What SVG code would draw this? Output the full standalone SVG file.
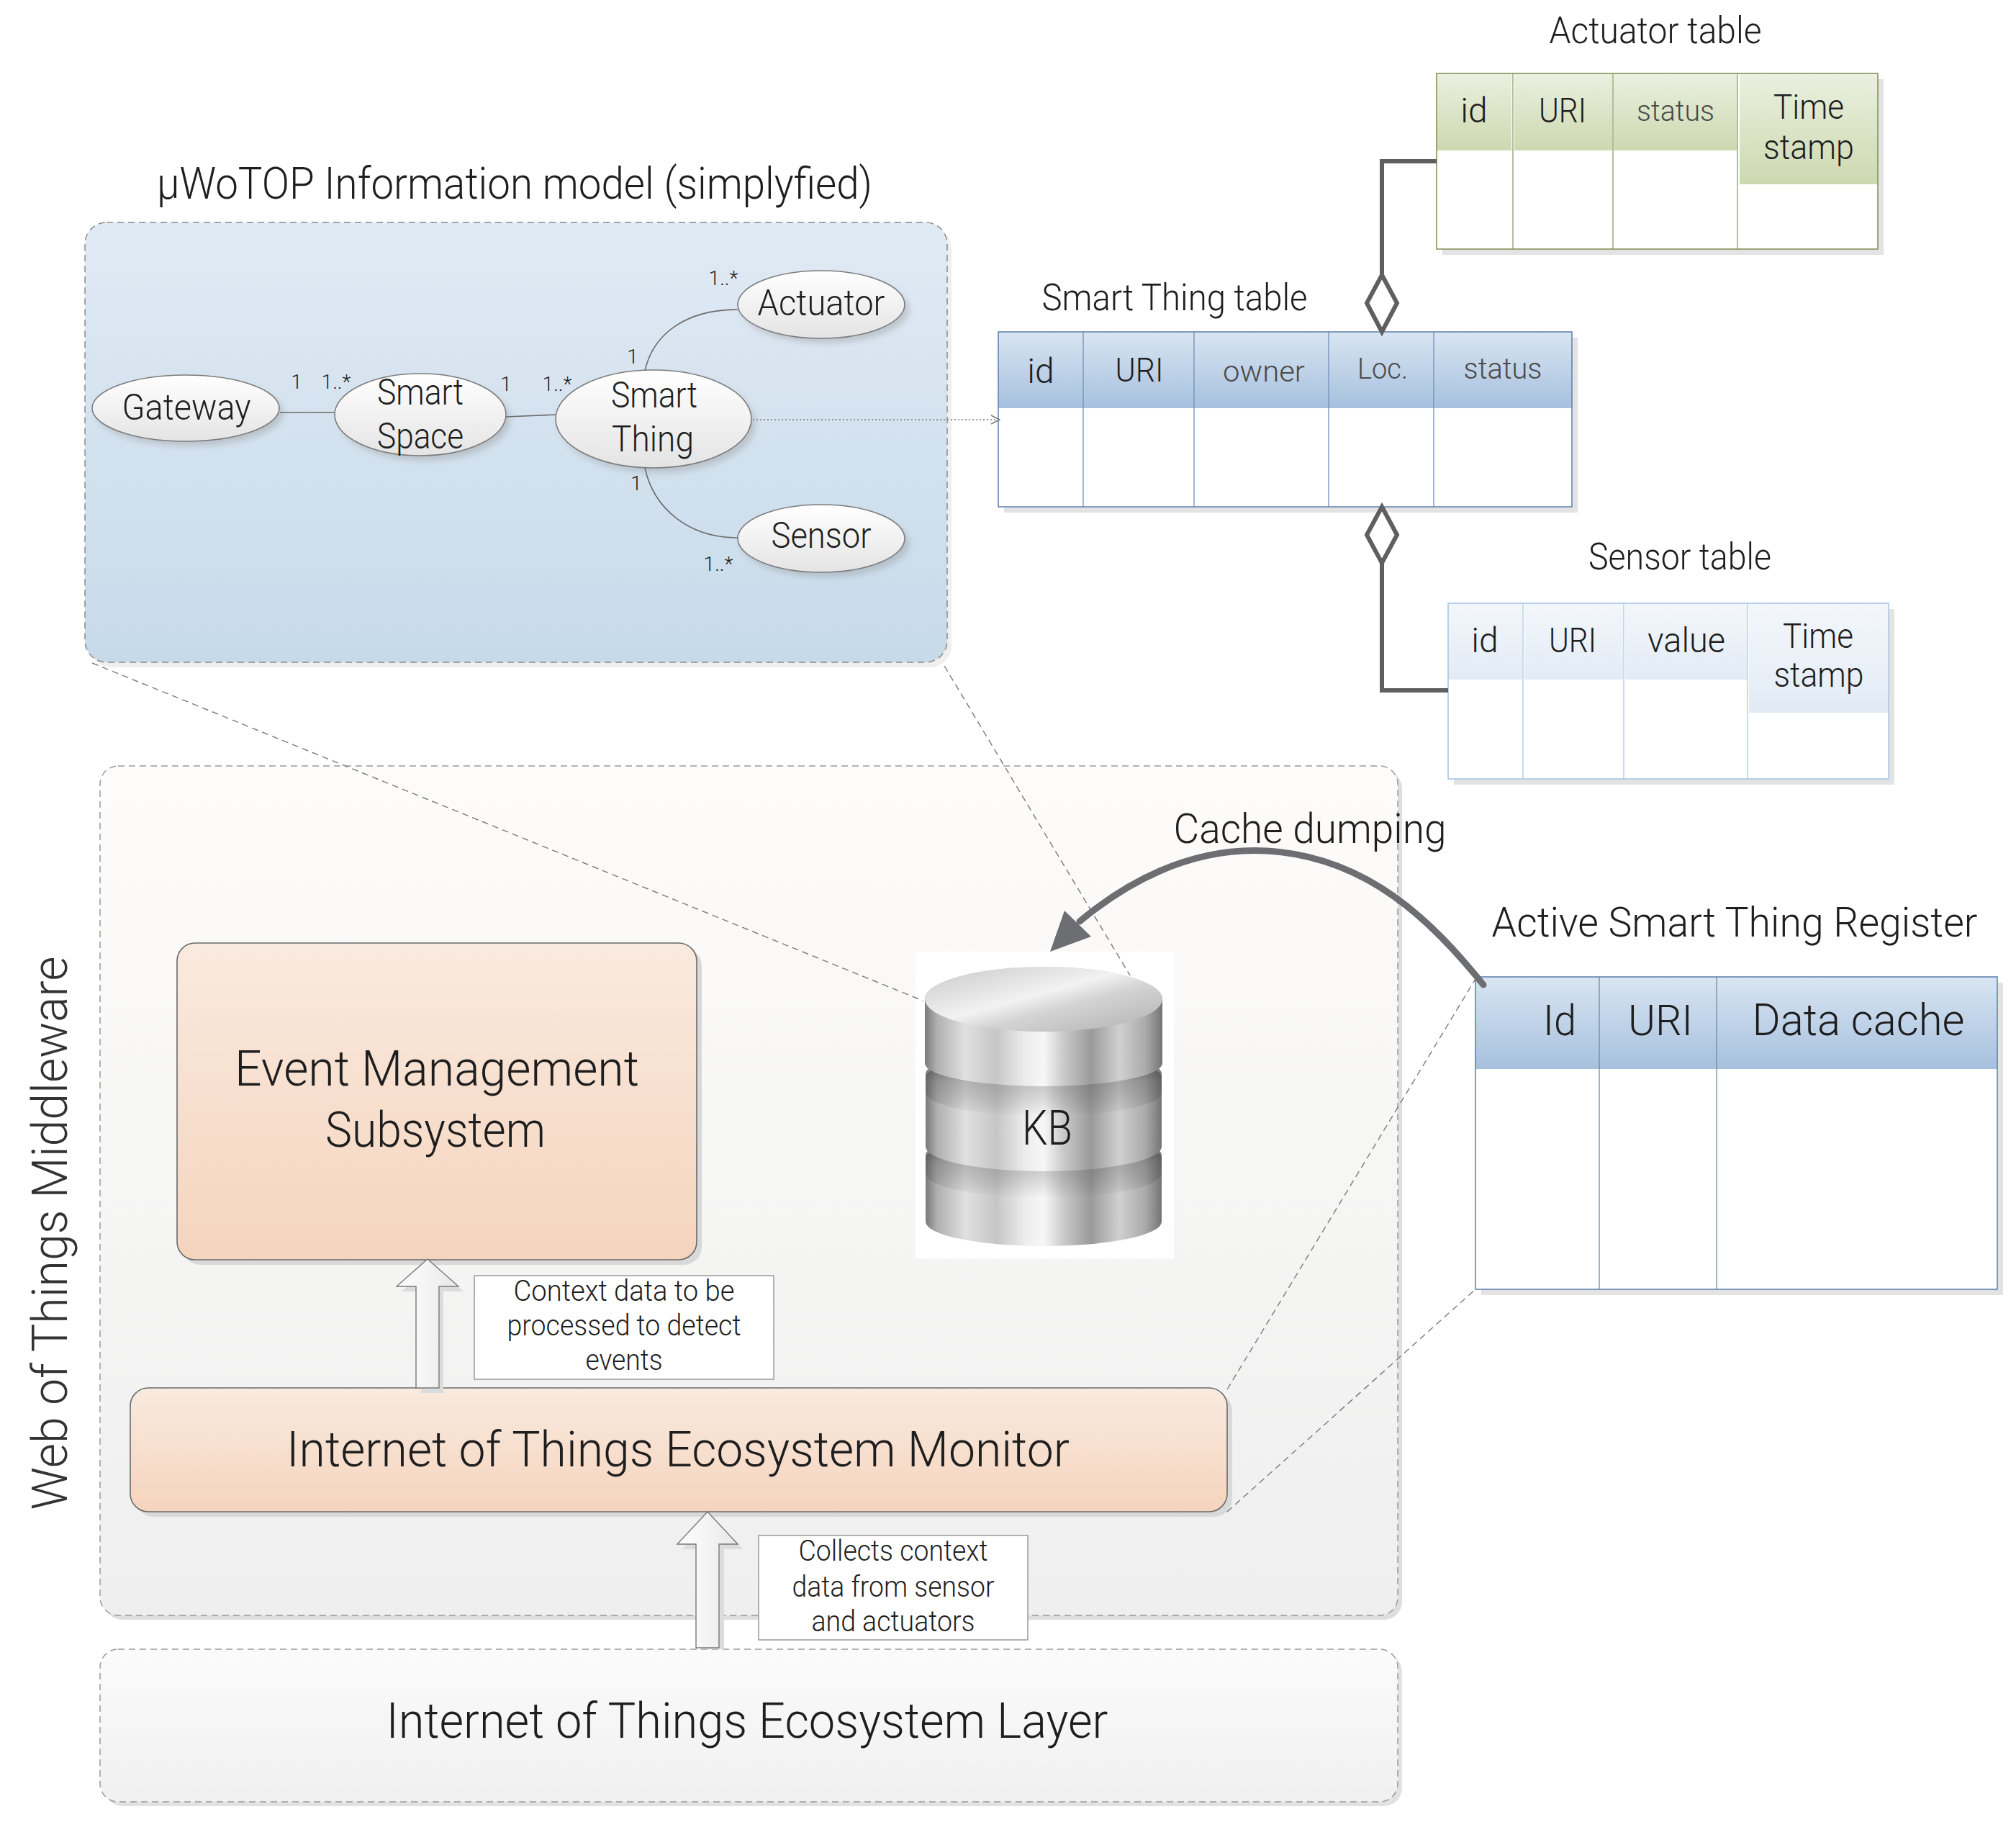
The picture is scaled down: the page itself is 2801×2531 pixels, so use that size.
<svg xmlns="http://www.w3.org/2000/svg" width="2801" height="2531" viewBox="0 0 2801 2531">
<defs>
<style>
text{font-family:"Roboto","Liberation Sans",Arial,sans-serif;font-weight:300;fill:#1e1e1e}
.c{text-anchor:middle}
.g{fill:#4a4a4a}
.mult{font-size:28px;text-anchor:middle}
.thin{stroke:#6b6b6b;stroke-width:1.6;fill:none}
.dash{stroke:#7a7a7a;stroke-width:1.4;fill:none;stroke-dasharray:9 6}
.thick{stroke:#5f5f5f;stroke-width:6;fill:none}
.ell{fill:url(#gEll);stroke:#7c7c7c;stroke-width:1.6}
.shd{fill:#8a8a8a;opacity:0.35;filter:url(#blur)}
.tshd{fill:#e3e3e3}
.peach{fill:url(#gPeach);stroke:#6a6a6a;stroke-width:1.6}
.note{fill:#ffffff;stroke:#a0a0a0;stroke-width:1.6}
.blk{fill:url(#gArrow);stroke:#7a7a7a;stroke-width:1.4}
.side{fill:url(#gSide)}
.groove{fill:url(#gGroove)}
</style>
<filter id="blur" x="-20%" y="-20%" width="140%" height="140%"><feGaussianBlur stdDeviation="4"/></filter>
<linearGradient id="gInfo" x1="0" y1="0" x2="0" y2="1"><stop offset="0" stop-color="#e0eaf4"/><stop offset="1" stop-color="#c7daea"/></linearGradient>
<linearGradient id="gEll" x1="0" y1="0" x2="0" y2="1"><stop offset="0" stop-color="#ffffff"/><stop offset="1" stop-color="#e4e4e4"/></linearGradient>
<linearGradient id="gBlue" x1="0" y1="0" x2="0" y2="1"><stop offset="0" stop-color="#d9e5f2"/><stop offset="1" stop-color="#a6c0de"/></linearGradient>
<linearGradient id="gGreen" x1="0" y1="0" x2="0" y2="1"><stop offset="0" stop-color="#eaf0df"/><stop offset="1" stop-color="#cdd9b0"/></linearGradient>
<linearGradient id="gLight" x1="0" y1="0" x2="0" y2="1"><stop offset="0" stop-color="#f3f7fb"/><stop offset="1" stop-color="#e2ebf5"/></linearGradient>
<linearGradient id="gMid" x1="0" y1="0" x2="0" y2="1"><stop offset="0" stop-color="#fdfcfb"/><stop offset="1" stop-color="#efefef"/></linearGradient>
<linearGradient id="gLayer" x1="0" y1="0" x2="0" y2="1"><stop offset="0" stop-color="#fbfbfb"/><stop offset="1" stop-color="#f0f0f0"/></linearGradient>
<linearGradient id="gPeach" x1="0" y1="0" x2="0" y2="1"><stop offset="0" stop-color="#f9eadf"/><stop offset="1" stop-color="#f5d4bd"/></linearGradient>
<linearGradient id="gArrow" x1="0" y1="0" x2="1" y2="0"><stop offset="0" stop-color="#ffffff"/><stop offset="1" stop-color="#e8e8e8"/></linearGradient>
<linearGradient id="gSide" x1="0" y1="0" x2="1" y2="0">
<stop offset="0" stop-color="#7a7a7a"/><stop offset="0.05" stop-color="#b0b0b0"/><stop offset="0.17" stop-color="#e0e0e0"/><stop offset="0.3" stop-color="#c6c6c6"/><stop offset="0.42" stop-color="#ececec"/><stop offset="0.5" stop-color="#f7f7f7"/><stop offset="0.58" stop-color="#cccccc"/><stop offset="0.7" stop-color="#9a9a9a"/><stop offset="0.82" stop-color="#d0d0d0"/><stop offset="0.93" stop-color="#aaaaaa"/><stop offset="1" stop-color="#747474"/>
</linearGradient>
<linearGradient id="gTop" x1="0" y1="0" x2="1" y2="1"><stop offset="0" stop-color="#c8c8c8"/><stop offset="0.45" stop-color="#f2f2f2"/><stop offset="0.6" stop-color="#d4d4d4"/><stop offset="1" stop-color="#b0b0b0"/></linearGradient>
<linearGradient id="gGroove" x1="0" y1="0" x2="0" y2="1"><stop offset="0" stop-color="#222222" stop-opacity="0.7"/><stop offset="0.45" stop-color="#333333" stop-opacity="0.25"/><stop offset="1" stop-color="#000000" stop-opacity="0"/></linearGradient>
<marker id="mOpen" markerWidth="16" markerHeight="16" refX="14" refY="8" orient="auto" markerUnits="userSpaceOnUse"><path d="M2,2 L14,8 L2,14" fill="none" stroke="#7a7a7a" stroke-width="1.4"/></marker>
</defs>

<rect x="0" y="0" width="2801" height="2531" fill="#ffffff"/>

<!-- Information model container -->
<g id="info-model">
<text class="c" x="715" y="276" font-size="62" textLength="994" lengthAdjust="spacingAndGlyphs">μWoTOP Information model (simplyfied)</text>
<rect x="124" y="316" width="1198" height="611" rx="30" fill="#e4e4e4" opacity="0.6"/>
<rect x="118" y="309" width="1198" height="611" rx="30" fill="url(#gInfo)" stroke="#8a8a8a" stroke-width="1.5" stroke-dasharray="9 6"/>
</g>

<!-- Lower containers -->
<g id="middleware">
<rect x="145" y="1070" width="1803" height="1180" rx="25" fill="#dedede"/>
<rect x="139" y="1064" width="1803" height="1180" rx="25" fill="url(#gMid)" stroke="#9a9a9a" stroke-width="1.5" stroke-dasharray="9 6"/>
<text class="c" transform="translate(93,1713) rotate(-90)" font-size="68" textLength="769" lengthAdjust="spacingAndGlyphs" style="fill:#333333">Web of Things Middleware</text>
</g>

<g id="ecosystem-layer">
<rect x="145" y="2297" width="1803" height="212" rx="25" fill="#e2e2e2"/>
<rect x="139" y="2291" width="1803" height="212" rx="25" fill="url(#gLayer)" stroke="#9a9a9a" stroke-width="1.5" stroke-dasharray="9 6"/>
<text class="c" x="1038" y="2414" font-size="68" textLength="1003" lengthAdjust="spacingAndGlyphs">Internet of Things Ecosystem Layer</text>
</g>

<g id="event-management">
<rect x="253" y="1317" width="722" height="440" rx="25" fill="#d9d9d9"/>
<rect x="246" y="1310" width="722" height="440" rx="25" class="peach"/>
<text class="c" x="607" y="1508" font-size="68" textLength="562" lengthAdjust="spacingAndGlyphs">Event Management</text>
<text class="c" x="605" y="1593" font-size="68" textLength="306" lengthAdjust="spacingAndGlyphs">Subsystem</text>
</g>

<g id="ecosystem-monitor">
<rect x="188" y="1935" width="1524" height="172" rx="25" fill="#d9d9d9"/>
<rect x="181" y="1928" width="1524" height="172" rx="25" class="peach"/>
<text class="c" x="942" y="2037" font-size="68" textLength="1088" lengthAdjust="spacingAndGlyphs">Internet of Things Ecosystem Monitor</text>
</g>

<g id="note-context">
<rect x="659" y="1772" width="416" height="144" class="note"/>
<text class="c" x="867" y="1807" font-size="40" textLength="307" lengthAdjust="spacingAndGlyphs">Context data to be</text>
<text class="c" x="867" y="1855" font-size="40" textLength="325" lengthAdjust="spacingAndGlyphs">processed to detect</text>
<text class="c" x="867" y="1903" font-size="40" textLength="107" lengthAdjust="spacingAndGlyphs">events</text>
</g>

<g id="note-collects">
<rect x="1054" y="2133" width="374" height="145" class="note"/>
<text class="c" x="1241" y="2168" font-size="40" textLength="263" lengthAdjust="spacingAndGlyphs">Collects context</text>
<text class="c" x="1241" y="2218" font-size="40" textLength="281" lengthAdjust="spacingAndGlyphs">data from sensor</text>
<text class="c" x="1241" y="2266" font-size="40" textLength="227" lengthAdjust="spacingAndGlyphs">and actuators</text>
</g>

<!-- KB -->
<g id="kb">
<rect x="1272" y="1322" width="359" height="426" fill="#ffffff"/>
<path class="side" d="M1286,1605 A164,34 0 0 1 1614,1605 V1697 A164,34 0 0 1 1286,1697 Z"/>
<path class="groove" d="M1286,1610 A164,34 0 0 1 1614,1610 V1630 A164,34 0 0 1 1286,1630 Z"/>
<path class="side" d="M1286,1492 A164,34 0 0 1 1614,1492 V1593 A164,34 0 0 1 1286,1593 Z"/>
<path class="groove" d="M1286,1497 A164,34 0 0 1 1614,1497 V1517 A164,34 0 0 1 1286,1517 Z"/>
<path class="side" d="M1285,1388 A165,45 0 0 1 1615,1388 V1477 A165,32 0 0 1 1285,1477 Z"/>
<ellipse cx="1450" cy="1388" rx="165" ry="45" fill="url(#gTop)"/>
<text class="c" x="1455" y="1590" font-size="66" textLength="70" lengthAdjust="spacingAndGlyphs">KB</text>
</g>

<!-- Ellipse nodes -->
<g id="gateway">
<ellipse cx="264" cy="574" rx="130" ry="46" class="shd"/>
<ellipse cx="258" cy="567" rx="130" ry="46" class="ell"/>
<text class="c" x="259" y="583" font-size="50" textLength="179" lengthAdjust="spacingAndGlyphs">Gateway</text>
</g>
<g id="smart-space">
<ellipse cx="590" cy="583" rx="119" ry="57" class="shd"/>
<ellipse cx="584" cy="576" rx="119" ry="57" class="ell"/>
<text class="c" x="584" y="562" font-size="50" textLength="120" lengthAdjust="spacingAndGlyphs">Smart</text>
<text class="c" x="584" y="623" font-size="50" textLength="120" lengthAdjust="spacingAndGlyphs">Space</text>
</g>
<g id="smart-thing">
<ellipse cx="914" cy="589" rx="136" ry="68" class="shd"/>
<ellipse cx="908" cy="582" rx="136" ry="68" class="ell"/>
<text class="c" x="909" y="566" font-size="50" textLength="120" lengthAdjust="spacingAndGlyphs">Smart</text>
<text class="c" x="907" y="627" font-size="50" textLength="114" lengthAdjust="spacingAndGlyphs">Thing</text>
</g>
<g id="actuator">
<ellipse cx="1147" cy="430" rx="116" ry="47" class="shd"/>
<ellipse cx="1141" cy="423" rx="116" ry="47" class="ell"/>
<text class="c" x="1141" y="438" font-size="50" textLength="177" lengthAdjust="spacingAndGlyphs">Actuator</text>
</g>
<g id="sensor">
<ellipse cx="1147" cy="755" rx="116" ry="47" class="shd"/>
<ellipse cx="1141" cy="748" rx="116" ry="47" class="ell"/>
<text class="c" x="1141" y="761" font-size="50" textLength="139" lengthAdjust="spacingAndGlyphs">Sensor</text>
</g>

<!-- Smart Thing table -->
<g id="smart-thing-table">
<text class="c" x="1632" y="431" font-size="52" textLength="369" lengthAdjust="spacingAndGlyphs">Smart Thing table</text>
<rect x="1395" y="469" width="797" height="243" class="tshd"/>
<rect x="1387" y="461" width="797" height="243" fill="#ffffff"/>
<rect x="1387" y="461" width="797" height="106" fill="url(#gBlue)"/>
<g stroke="#6f90ba" stroke-width="1.3">
<line x1="1505" y1="461" x2="1505" y2="704"/><line x1="1659" y1="461" x2="1659" y2="704"/><line x1="1846" y1="461" x2="1846" y2="704"/><line x1="1992" y1="461" x2="1992" y2="704"/>
</g>
<rect x="1387" y="461" width="797" height="243" fill="none" stroke="#5a7eab" stroke-width="1.5"/>
<text class="c" x="1446" y="532" font-size="48">id</text>
<text class="c" x="1583" y="530" font-size="46" textLength="67" lengthAdjust="spacingAndGlyphs">URI</text>
<text class="c g" x="1756" y="530" font-size="40" textLength="114" lengthAdjust="spacingAndGlyphs">owner</text>
<text class="c g" x="1921" y="526" font-size="40" textLength="70" lengthAdjust="spacingAndGlyphs">Loc.</text>
<text class="c g" x="2088" y="526" font-size="40" textLength="109" lengthAdjust="spacingAndGlyphs">status</text>
</g>

<!-- Actuator table -->
<g id="actuator-table">
<text class="c" x="2300" y="60" font-size="52" textLength="295" lengthAdjust="spacingAndGlyphs">Actuator table</text>
<rect x="2004" y="110" width="613" height="244" class="tshd"/>
<rect x="1996" y="102" width="613" height="244" fill="#ffffff"/>
<rect x="1996" y="102" width="104" height="107" fill="url(#gGreen)"/>
<rect x="2104" y="102" width="136" height="107" fill="url(#gGreen)"/>
<rect x="2242" y="102" width="171" height="107" fill="url(#gGreen)"/>
<rect x="2417" y="102" width="192" height="154" fill="url(#gGreen)"/>
<g stroke="#8d9a6c" stroke-width="1.3">
<line x1="2102" y1="102" x2="2102" y2="346"/><line x1="2241" y1="102" x2="2241" y2="346"/><line x1="2414" y1="102" x2="2414" y2="346"/>
</g>
<rect x="1996" y="102" width="613" height="244" fill="none" stroke="#7f8d55" stroke-width="1.5"/>
<text class="c" x="2048" y="170" font-size="48">id</text>
<text class="c" x="2171" y="170" font-size="48" textLength="66" lengthAdjust="spacingAndGlyphs">URI</text>
<text class="c g" x="2328" y="168" font-size="40" textLength="108" lengthAdjust="spacingAndGlyphs">status</text>
<text class="c" x="2513" y="165" font-size="48" textLength="98" lengthAdjust="spacingAndGlyphs">Time</text>
<text class="c" x="2513" y="221" font-size="48" textLength="126" lengthAdjust="spacingAndGlyphs">stamp</text>
</g>

<!-- Sensor table -->
<g id="sensor-table">
<text class="c" x="2334" y="791" font-size="52" textLength="254" lengthAdjust="spacingAndGlyphs">Sensor table</text>
<rect x="2020" y="846" width="612" height="244" class="tshd"/>
<rect x="2012" y="838" width="612" height="244" fill="#ffffff"/>
<rect x="2012" y="838" width="103" height="106" fill="url(#gLight)"/>
<rect x="2118" y="838" width="137" height="106" fill="url(#gLight)"/>
<rect x="2258" y="838" width="169" height="106" fill="url(#gLight)"/>
<rect x="2430" y="838" width="194" height="152" fill="url(#gLight)"/>
<g stroke="#a9c8e6" stroke-width="1.3">
<line x1="2116" y1="838" x2="2116" y2="1082"/><line x1="2256" y1="838" x2="2256" y2="1082"/><line x1="2428" y1="838" x2="2428" y2="1082"/>
</g>
<rect x="2012" y="838" width="612" height="244" fill="none" stroke="#a3c4e5" stroke-width="1.5"/>
<text class="c" x="2063" y="906" font-size="48">id</text>
<text class="c" x="2185" y="906" font-size="48" textLength="66" lengthAdjust="spacingAndGlyphs">URI</text>
<text class="c" x="2343" y="906" font-size="48" textLength="108" lengthAdjust="spacingAndGlyphs">value</text>
<text class="c" x="2526" y="900" font-size="48" textLength="98" lengthAdjust="spacingAndGlyphs">Time</text>
<text class="c" x="2527" y="954" font-size="48" textLength="125" lengthAdjust="spacingAndGlyphs">stamp</text>
</g>

<!-- Active Smart Thing Register -->
<g id="active-register">
<text class="c" x="2410" y="1301" font-size="58" textLength="675" lengthAdjust="spacingAndGlyphs">Active Smart Thing Register</text>
<rect x="2058" y="1365" width="725" height="434" class="tshd"/>
<rect x="2050" y="1357" width="725" height="434" fill="#ffffff"/>
<rect x="2050" y="1357" width="725" height="128" fill="url(#gBlue)"/>
<g stroke="#6f8aa8" stroke-width="1.3">
<line x1="2222" y1="1357" x2="2222" y2="1791"/><line x1="2385" y1="1357" x2="2385" y2="1791"/>
</g>
<rect x="2050" y="1357" width="725" height="434" fill="none" stroke="#5a7eab" stroke-width="1.5"/>
<text class="c" x="2167" y="1438" font-size="60" textLength="46" lengthAdjust="spacingAndGlyphs">Id</text>
<text class="c" x="2307" y="1438" font-size="60" textLength="90" lengthAdjust="spacingAndGlyphs">URI</text>
<text class="c" x="2582" y="1438" font-size="62" textLength="295" lengthAdjust="spacingAndGlyphs">Data cache</text>
</g>

<g id="cache-dumping-label">
<text class="c" x="1820" y="1171" font-size="58" textLength="379" lengthAdjust="spacingAndGlyphs">Cache dumping</text>
</g>

<!-- Connectors -->
<g id="connectors">
<line class="thin" x1="389" y1="573" x2="465" y2="573"/>
<line class="thin" x1="703" y1="579" x2="772" y2="576"/>
<path class="thin" d="M896,515 C908,462 955,430 1025,430"/>
<path class="thin" d="M896,650 C908,705 955,747 1025,747"/>
<text class="mult" x="412" y="540">1</text>
<text class="mult" x="467" y="540">1..*</text>
<text class="mult" x="703" y="543">1</text>
<text class="mult" x="774" y="543">1..*</text>
<text class="mult" x="879" y="505">1</text>
<text class="mult" x="1005" y="396">1..*</text>
<text class="mult" x="884" y="681">1</text>
<text class="mult" x="998" y="793">1..*</text>

<line x1="1046" y1="583" x2="1389" y2="583" stroke="#7a7a7a" stroke-width="1.4" stroke-dasharray="2 3" marker-end="url(#mOpen)"/>

<path class="thick" d="M1996,224 H1920 V382"/>
<path d="M1920,382 L1941,421 L1920,461 L1899,421 Z" fill="#ffffff" stroke="#5f5f5f" stroke-width="6" stroke-linejoin="miter"/>
<path d="M1920,704 L1941,743 L1920,782 L1899,743 Z" fill="#ffffff" stroke="#5f5f5f" stroke-width="6" stroke-linejoin="miter"/>
<path class="thick" d="M1920,782 V959 H2012"/>

<line class="dash" x1="128" y1="921" x2="1282" y2="1390"/>
<line class="dash" x1="1312" y1="925" x2="1570" y2="1355"/>
<line class="dash" x1="1705" y1="1930" x2="2050" y2="1360"/>
<line class="dash" x1="1705" y1="2100" x2="2050" y2="1791"/>

<path d="M2061,1368 C1990,1280 1900,1190 1760,1182 C1650,1176 1560,1230 1500,1280" fill="none" stroke="#6d6e71" stroke-width="9" stroke-linecap="round"/>
<path d="M1459,1322 L1479,1265 L1516,1301 Z" fill="#6d6e71"/>

<path d="M601,1756 L644,1794 L616,1794 L616,1935 L585,1935 L585,1794 L558,1794 Z" fill="#dcdcdc"/>
<path class="blk" d="M594,1749 L637,1787 L610,1787 L610,1928 L578,1928 L578,1787 L551,1787 Z"/>
<path d="M990,2107 L1032,2152 L1006,2152 L1006,2291 L974,2291 L974,2152 L948,2152 Z" fill="#dcdcdc"/>
<path class="blk" d="M983,2100 L1025,2145 L999,2145 L999,2289 L967,2289 L967,2145 L941,2145 Z"/>
</g>
</svg>
